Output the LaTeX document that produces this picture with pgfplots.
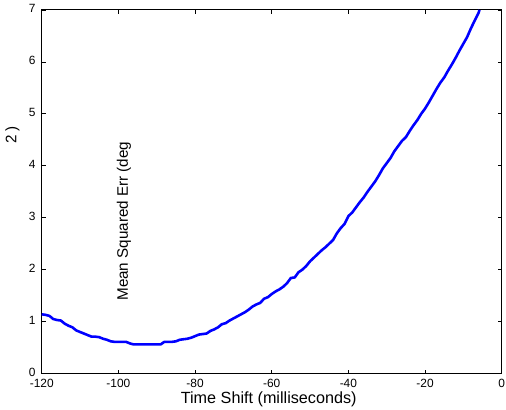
\documentclass[border=0pt]{standalone}
\usepackage{fontspec}
\setmainfont{Liberation Sans}
\usepackage{pgfplots}
\pgfplotsset{compat=1.18}
\begin{document}
\begin{tikzpicture}
\begin{axis}[
  scale only axis,
  width=463bp, height=366bp,
  xmin=-120, xmax=0, ymin=0, ymax=7,
  xtick={-120,-100,-80,-60,-40,-20,0},
  ytick={0,1,2,3,4,5,6,7},
  tick align=inside,
  major tick length=4bp,
  axis line style={line width=0.9bp},
  every tick/.style={black, line width=0.7bp},
  /pgf/number format/assume math mode=true,
  tick label style={font=\fontsize{12bp}{14bp}\selectfont, inner sep=1bp},
  xticklabel style={yshift=-4bp},
  yticklabel style={xshift=-5bp, yshift=1.5bp},
  xlabel={Time Shift (milliseconds)},
  xlabel style={font=\fontsize{16.3bp}{19bp}\selectfont, inner sep=0pt, at={(rel axis cs:0.5,0)}, anchor=base, yshift=-30.5bp, xshift=-3bp},
  clip=true,
]
\coordinate (ll) at (rel axis cs:0,0);
\addplot[color={rgb,255:red,0;green,0;blue,255}, line width=2.6bp, line join=round] coordinates {
(-120,1.14) (-119,1.13) (-118,1.11) (-117,1.05) (-116,1.03) (-115,1.02)
(-114,0.96) (-113,0.92) (-112,0.89) (-111,0.83) (-110,0.80) (-109,0.77)
(-108,0.74) (-107,0.71) (-106,0.71) (-105,0.70) (-104,0.67) (-103,0.65)
(-102,0.62) (-101,0.61) (-100,0.61) (-99,0.61) (-98,0.61) (-97,0.58)
(-96,0.56) (-95,0.56) (-90,0.56) (-89,0.56) (-88,0.61) (-86,0.61)
(-85,0.62) (-84,0.65) (-83,0.66) (-82,0.67) (-81,0.69) (-80,0.72)
(-79,0.75) (-77,0.77) (-76,0.82) (-75,0.85) (-74,0.89) (-73,0.95)
(-72,0.97) (-71,1.02) (-70,1.06) (-69,1.10) (-68,1.14) (-67,1.18)
(-66,1.23) (-65,1.29) (-64,1.33) (-63,1.36) (-62,1.44) (-61,1.47)
(-60,1.53) (-59,1.58) (-58,1.62) (-57,1.67) (-56,1.74) (-55,1.84)
(-54,1.85) (-53,1.95) (-52,2.00) (-51,2.07) (-50,2.16) (-49,2.23)
(-48,2.30) (-47,2.37) (-46,2.43) (-45,2.50) (-44,2.57) (-43,2.70)
(-42,2.80) (-41,2.88) (-40,3.03) (-39,3.10) (-38,3.20) (-37,3.30)
(-36,3.39) (-35,3.50) (-34,3.60) (-33,3.70) (-32,3.82) (-31,3.95)
(-30,4.05) (-29,4.15) (-28,4.28) (-27,4.38) (-26,4.48) (-25,4.55)
(-24,4.67) (-23,4.78) (-22,4.88) (-21,5.00) (-20,5.10) (-19,5.22)
(-18,5.35) (-17,5.48) (-16,5.60) (-15,5.70) (-14,5.83) (-13,5.95)
(-12,6.08) (-11,6.22) (-10,6.35) (-9,6.48) (-8,6.65) (-7,6.80)
(-6,6.95) (-5.8,7.0)
};
\node[rotate=90, font=\fontsize{15.3bp}{18bp}\selectfont] at (rel axis cs:0.179,0.419) {Mean Squared Err (deg};
\end{axis}
\node[rotate=90, font=\fontsize{15.3bp}{18bp}\selectfont] at ([shift={(-29.5bp,240bp)}]ll) {2 )};
\useasboundingbox ([shift={(-42bp,-36bp)}]ll) rectangle ([shift={(464bp,376bp)}]ll);
\end{tikzpicture}
\end{document}
